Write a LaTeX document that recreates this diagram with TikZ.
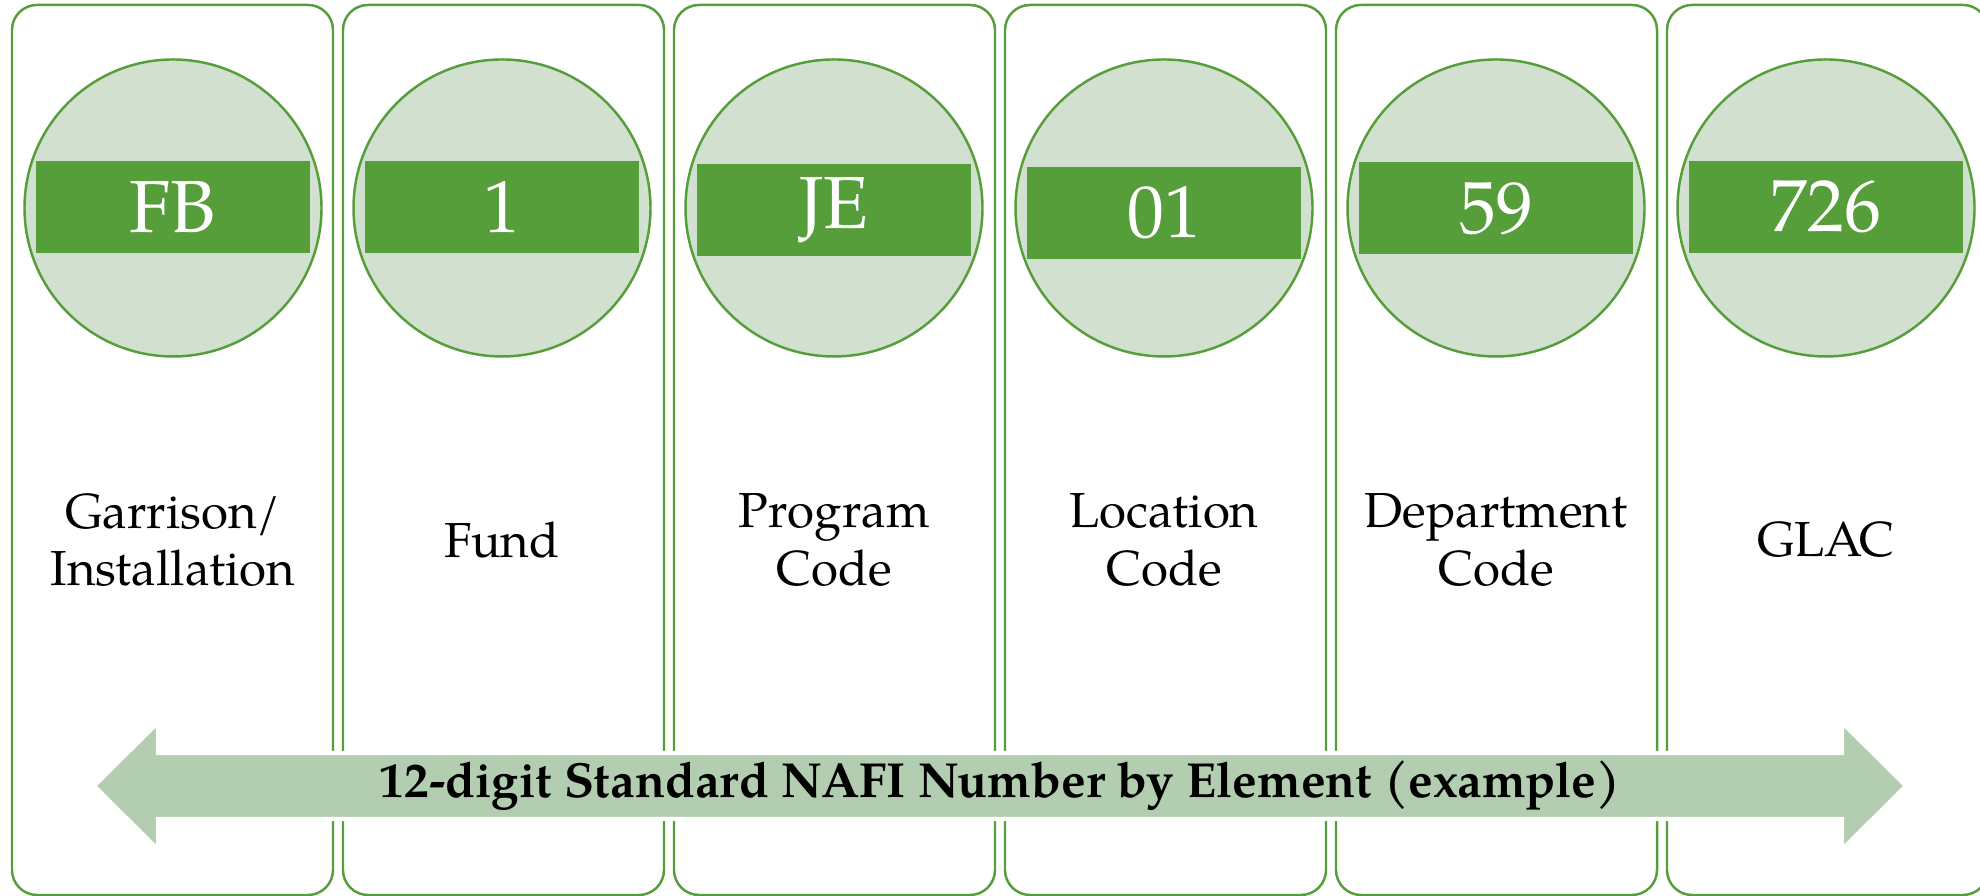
\documentclass[tikz,border=0pt]{standalone}
\usepackage{fontspec}
\setmainfont{TeX Gyre Pagella}
\usepackage{tikz}
\usetikzlibrary{positioning}
\definecolor{nafigreen}{HTML}{559E3A}
\definecolor{discfill}{HTML}{D1E0CF}
\definecolor{arrowfill}{HTML}{B3CDB0}

\begin{document}
\begin{tikzpicture}[
    col/.style={draw=nafigreen,line width=0.7pt,rounded corners=0.25cm,
      minimum width=3.21cm,minimum height=8.9cm,inner sep=0pt},
    disc/.style={circle,draw=nafigreen,line width=0.7pt,fill=discfill,
      minimum size=2.97cm,inner sep=0pt},
    band/.style={fill=nafigreen,text=white,minimum width=2.74cm,
      minimum height=0.92cm,inner sep=0pt,font=\fontsize{21}{24}\selectfont},
    lab/.style={align=center,font=\fontsize{14}{16.3}\selectfont}
  ]
      \useasboundingbox (0,0) rectangle (19.8,8.96);
      % columns
      \node[col](col1) at (1.725,4.46){};
      \node[col](col2) at (5.035,4.46){};
      \node[col](col3) at (8.345,4.46){};
      \node[col](col4) at (11.655,4.46){};
      \node[col](col5) at (14.965,4.46){};
      \node[col](col6) at (18.275,4.46){};
      % discs with the code of each element
      \node[disc](disc1) at (1.73,6.88){};
      \node[band](band1) at (1.73,6.89){FB};
      \node[disc](disc2) at (5.02,6.88){};
      \node[band](band2) at (5.02,6.89){1};
      \node[disc](disc3) at (8.34,6.88){};
      \node[band](band3) at (8.34,6.86){JE};
      \node[disc](disc4) at (11.64,6.88){};
      \node[band](band4) at (11.64,6.83){01};
      \node[disc](disc5) at (14.96,6.88){};
      \node[band](band5) at (14.96,6.875){59};
      \node[disc](disc6) at (18.26,6.88){};
      \node[band](band6) at (18.26,6.89){726};
      % names of the elements
      \node[lab](lab1) at (1.73,3.56){Garrison/\\Installation};
      \node[lab](lab2) at (5.02,3.56){Fund};
      \node[lab](lab3) at (8.34,3.56){Program\\Code};
      \node[lab](lab4) at (11.64,3.56){Location\\Code};
      \node[lab](lab5) at (14.96,3.56){Department\\Code};
      \node[lab](lab6) at (18.26,3.56){GLAC};
      % double arrow
      \fill[arrowfill,draw=white,line width=1.2pt]
        (0.94,1.10) -- (1.58,1.735) -- (1.58,1.43) -- (18.42,1.43)
        -- (18.42,1.735) -- (19.06,1.10) -- (18.42,0.465) -- (18.42,0.77)
        -- (1.58,0.77) -- (1.58,0.465) -- cycle;
      \node[font=\fontsize{14}{16}\selectfont\bfseries](span) at (10.0,1.10)
        {12-digit Standard NAFI Number by Element (example)};
\end{tikzpicture}
\end{document}
